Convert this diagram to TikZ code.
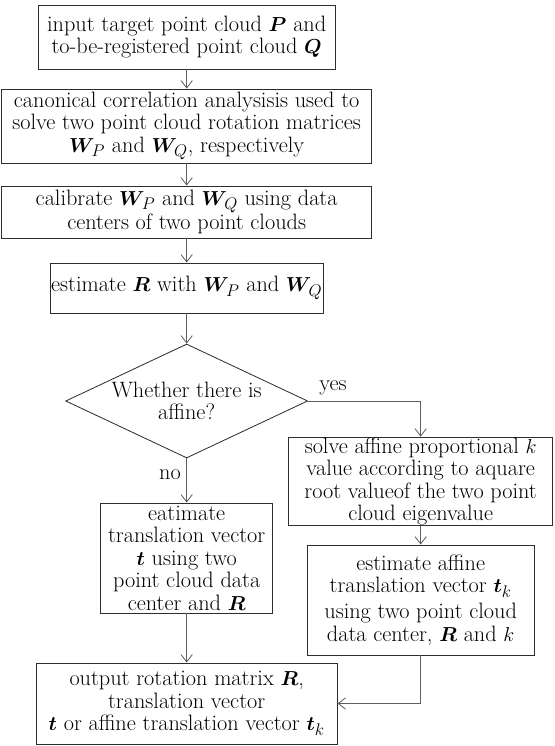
\documentclass[tikz,border=0pt]{standalone}
\usepackage{amsmath,amssymb}
\usepackage{tikz}
\usetikzlibrary{positioning,arrows.meta,shapes.geometric}
\definecolor{borde}{RGB}{45,45,45}
\definecolor{linea}{RGB}{95,95,95}

\begin{document}
\begin{tikzpicture}[
  caja/.style={rectangle, draw=borde, line width=0.7pt, align=center, inner xsep=1pt, inner ysep=0.5pt, font=\fontsize{19}{19.2}\selectfont},
  rombo/.style={diamond, draw=borde, line width=0.7pt, align=center, inner sep=0pt, aspect=2.12, minimum width=7.26cm, minimum height=3.42cm, font=\fontsize{19}{19.2}\selectfont},
  flecha/.style={draw=linea, line width=0.7pt, -{Straight Barb[length=2.2mm,width=3.4mm]}},
  etq/.style={font=\fontsize{19}{19.2}\selectfont}
]
\useasboundingbox (0,0) rectangle (16.62,22.38);
% columna principal
\node[caja, minimum width=8.91cm, minimum height=1.92cm] (inp) at (5.6,21.27)
  {input target point cloud $\boldsymbol{P}$ and\\to-be-registered point cloud $\boldsymbol{Q}$};
\node[caja, minimum width=11.1cm, minimum height=2.22cm] (cca) at (5.6,18.6)
  {canonical correlation analysisis used to\\solve two point cloud rotation matrices\\$\boldsymbol{W}_{\!P}$ and $\boldsymbol{W}_{\!Q}$, respectively};
\node[caja, minimum width=11.1cm, minimum height=1.56cm] (calib) at (5.6,16.02)
  {calibrate $\boldsymbol{W}_{\!P}$ and $\boldsymbol{W}_{\!Q}$ using data\\centers of two point clouds};
\node[caja, minimum width=7.74cm, minimum height=1.5cm] (estr) at (5.6,13.74)
  {estimate $\boldsymbol{R}$ with $\boldsymbol{W}_{\!P}$ and $\boldsymbol{W}_{\!Q}$};
\node[rombo] (dec) at (5.6,10.35) {Whether there is\\affine?};
\node[caja, minimum width=5.16cm, minimum height=3.3cm] (trasl) at (5.6,5.64)
  {eatimate\\translation vector\\$\boldsymbol{t}$ using two\\point cloud data\\center and $\boldsymbol{R}$};
\node[caja, minimum width=9.03cm, minimum height=2.43cm] (sal) at (5.6,1.275)
  {output rotation matrix $\boldsymbol{R}$,\\translation vector\\$\boldsymbol{t}$ or affine translation vector $\boldsymbol{t}_k$};
% rama afin
\node[caja, minimum width=7.92cm, minimum height=2.55cm] (prop) at (12.62,7.935)
  {solve affine proportional $k$\\value according to aquare\\root valueof the two point\\cloud eigenvalue};
\node[caja, minimum width=6.81cm, minimum height=3.3cm] (afin) at (12.62,4.38)
  {estimate affine\\translation vector $\boldsymbol{t}_k$\\[3pt]using two point cloud\\data center, $\boldsymbol{R}$ and $k$};
\node[etq] (si) at (9.99,10.74) {yes};
\node[etq] (no) at (5.1,8.13) {no};
% conectores
\draw[flecha] (inp) -- (cca);
\draw[flecha] (cca) -- (calib);
\draw[flecha] (calib) -- (estr);
\draw[flecha] (estr) -- (dec);
\draw[flecha] (dec) -- (trasl);
\draw[flecha] (trasl) -- (sal);
\draw[flecha] (dec.east) -| (prop.north);
\draw[flecha] (prop) -- (afin);
\draw[flecha] (afin.south) |- (sal.east);
\end{tikzpicture}
\end{document}
